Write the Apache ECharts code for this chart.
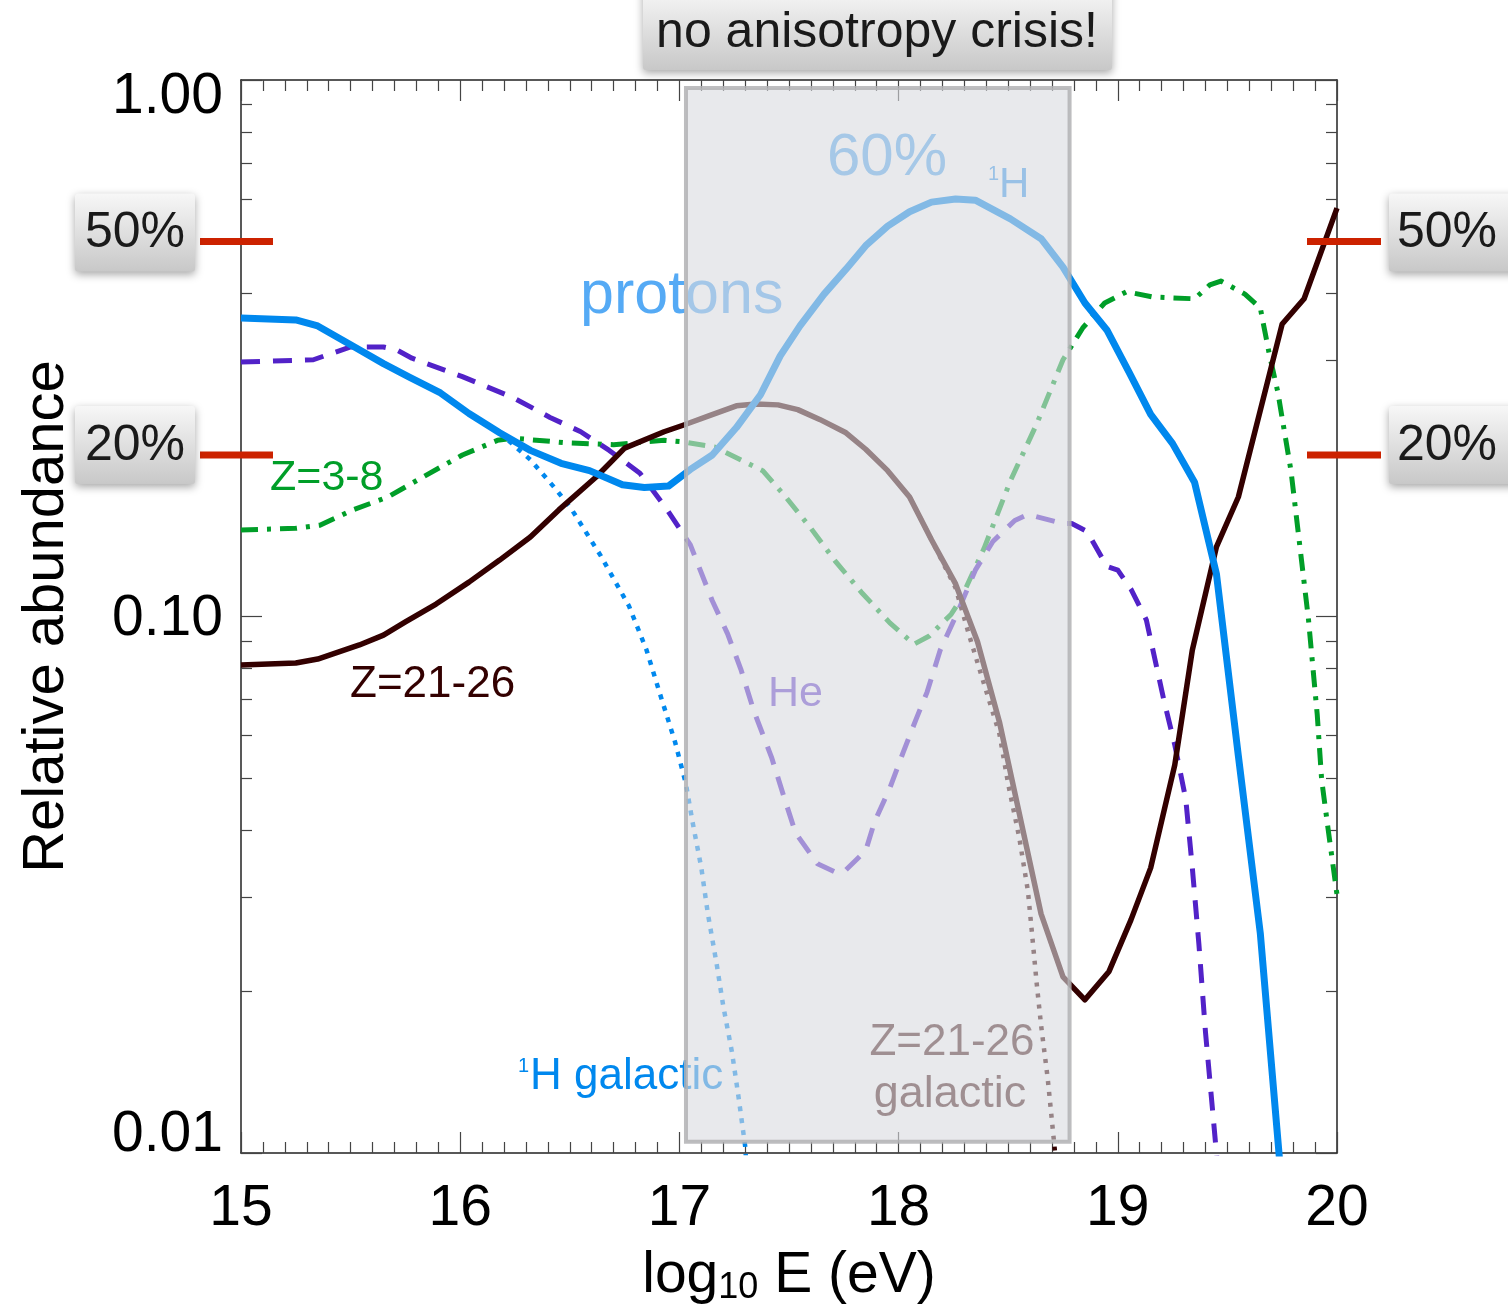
<!DOCTYPE html>
<html>
<head>
<meta charset="utf-8">
<script src="https://cdn.jsdelivr.net/npm/echarts@6/dist/echarts.min.js"></script>
<style>
  html, body { margin: 0; padding: 0; background: #ffffff; }
  #chart { width: 1508px; height: 1308px; }
</style>
</head>
<body>
<div id="chart"></div>
<script>
// Relative abundance of nuclear groups vs. log10 of energy (eV)
const xTicks = [15, 16, 17, 18, 19, 20];
const yTickValues = [0.01, 0.1, 1];
const yTickLabels = ['0.01', '0.10', '1.00'];
const yMinorTicks = [0.02, 0.03, 0.04, 0.05, 0.06, 0.07, 0.08, 0.09,
                     0.2, 0.3, 0.4, 0.5, 0.6, 0.7, 0.8, 0.9];

// Reference levels shown with red markers
const levelValues = [0.5, 0.2];
const levelLabels = ['50%', '20%'];

// Shaded energy band ("no anisotropy crisis!")
const bandEnergy = [17.03, 18.78];
const bandAbundance = [0.0105, 0.966];

// Protons (1H), total
const protons = [
  [15.00, 0.360], [15.25, 0.357], [15.35, 0.348], [15.50, 0.321], [15.65, 0.296],
  [15.77, 0.279], [15.91, 0.261], [16.04, 0.239], [16.18, 0.220], [16.32, 0.204],
  [16.46, 0.193], [16.59, 0.187], [16.74, 0.176], [16.84, 0.174], [16.95, 0.175],
  [17.05, 0.188], [17.15, 0.200], [17.26, 0.225], [17.37, 0.259], [17.46, 0.306],
  [17.55, 0.348], [17.66, 0.399], [17.76, 0.444], [17.85, 0.491], [17.95, 0.534],
  [18.05, 0.568], [18.15, 0.592], [18.26, 0.600], [18.35, 0.597], [18.51, 0.551],
  [18.65, 0.506], [18.75, 0.448], [18.85, 0.384], [18.95, 0.342], [19.05, 0.286],
  [19.15, 0.238], [19.25, 0.210], [19.35, 0.178], [19.45, 0.120], [19.55, 0.055],
  [19.65, 0.0257], [19.75, 0.0085]
];

// Galactic protons
const protonsGalactic = [
  [16.04, 0.239], [16.18, 0.220], [16.32, 0.196], [16.44, 0.172], [16.51, 0.158],
  [16.64, 0.130], [16.77, 0.1046], [16.85, 0.0866], [16.92, 0.0699], [16.98, 0.0584],
  [17.03, 0.0487], [17.06, 0.0414], [17.10, 0.0340], [17.13, 0.0279], [17.17, 0.0225],
  [17.20, 0.0188], [17.24, 0.0154], [17.27, 0.0127], [17.30, 0.0103], [17.31, 0.0089]
];

// Helium
const helium = [
  [15.00, 0.298], [15.33, 0.301], [15.39, 0.307], [15.50, 0.318], [15.65, 0.318],
  [15.71, 0.314], [15.78, 0.303], [16.01, 0.280], [16.24, 0.256], [16.41, 0.235],
  [16.55, 0.221], [16.68, 0.204], [16.82, 0.185], [16.94, 0.159], [17.05, 0.136],
  [17.15, 0.107], [17.22, 0.0928], [17.28, 0.0798], [17.34, 0.0666], [17.42, 0.0547],
  [17.48, 0.0457], [17.53, 0.0395], [17.63, 0.0346], [17.71, 0.0334], [17.75, 0.0334],
  [17.85, 0.0366], [17.89, 0.0414], [17.96, 0.0479], [18.02, 0.0557], [18.08, 0.0644],
  [18.13, 0.0723], [18.19, 0.0866], [18.27, 0.102], [18.35, 0.122], [18.43, 0.138],
  [18.53, 0.151], [18.59, 0.155], [18.75, 0.149], [18.79, 0.149], [18.86, 0.144],
  [18.95, 0.124], [19.00, 0.122], [19.06, 0.1125], [19.13, 0.0986], [19.21, 0.0699],
  [19.26, 0.0576], [19.31, 0.0457], [19.34, 0.0340], [19.37, 0.0245], [19.40, 0.0168],
  [19.45, 0.0100], [19.47, 0.0082]
];

// Z = 3-8
const cno = [
  [15.00, 0.145], [15.25, 0.146], [15.36, 0.148], [15.51, 0.158], [15.67, 0.167],
  [15.83, 0.182], [16.01, 0.200], [16.17, 0.213], [16.24, 0.215], [16.47, 0.211],
  [16.70, 0.209], [16.93, 0.213], [17.02, 0.2115], [17.16, 0.207], [17.38, 0.187],
  [17.48, 0.168], [17.60, 0.146], [17.71, 0.127], [17.83, 0.111], [17.96, 0.0973],
  [18.07, 0.0888], [18.14, 0.092], [18.24, 0.101], [18.28, 0.107], [18.39, 0.134],
  [18.51, 0.179], [18.63, 0.2285], [18.75, 0.301], [18.84, 0.345], [18.94, 0.384],
  [19.04, 0.403], [19.16, 0.394], [19.35, 0.391], [19.42, 0.415], [19.47, 0.422],
  [19.58, 0.399], [19.65, 0.376], [19.69, 0.310], [19.73, 0.262], [19.79, 0.187],
  [19.87, 0.0986], [19.91, 0.0655], [19.93, 0.0496], [19.96, 0.040], [20.00, 0.0303]
];

// Z = 21-26
const iron = [
  [15.00, 0.0812], [15.25, 0.0819], [15.35, 0.0833], [15.54, 0.0885], [15.65, 0.0923],
  [15.75, 0.0977], [15.89, 0.1055], [16.04, 0.1159], [16.18, 0.1274], [16.32, 0.1407],
  [16.45, 0.158], [16.62, 0.182], [16.75, 0.206], [16.93, 0.221], [17.02, 0.2275],
  [17.14, 0.237], [17.26, 0.247], [17.35, 0.249], [17.45, 0.248], [17.54, 0.243],
  [17.64, 0.233], [17.76, 0.220], [17.85, 0.205], [17.95, 0.187], [18.05, 0.167],
  [18.15, 0.139], [18.26, 0.115], [18.36, 0.0897], [18.46, 0.0636], [18.65, 0.0279],
  [18.75, 0.0213], [18.85, 0.0193], [18.96, 0.0218], [19.06, 0.0272], [19.15, 0.0340],
  [19.26, 0.0529], [19.34, 0.0866], [19.45, 0.1348], [19.55, 0.167], [19.75, 0.351],
  [19.85, 0.391], [20.00, 0.577]
];

// Galactic Z = 21-26
const ironGalactic = [
  [18.05, 0.167], [18.15, 0.139], [18.26, 0.113], [18.32, 0.0928], [18.39, 0.0748],
  [18.46, 0.0604], [18.50, 0.0487], [18.55, 0.0388], [18.59, 0.0308], [18.61, 0.0253],
  [18.63, 0.0207], [18.65, 0.0173], [18.68, 0.0138], [18.71, 0.0104], [18.73, 0.0085]
];

const FONT = '"Liberation Sans", Arial, Helvetica, sans-serif';
const BLUE = '#0088ee';
const PURPLE = '#5222c8';
const GREEN = '#009e28';
const DARK = '#330000';

const chart = echarts.init(document.getElementById('chart'), null, { renderer: 'canvas' });

const frameLine = { show: true, onZero: false, lineStyle: { color: '#222', width: 1.5 } };
const tickStyle = { color: '#444', width: 1.2 };

function xAxisDef(position, withLabels) {
  return {
    type: 'value', position: position, min: xTicks[0], max: xTicks[xTicks.length - 1], interval: 1,
    axisLine: frameLine,
    axisTick: { show: true, inside: true, length: 21, lineStyle: tickStyle },
    minorTick: { show: true, splitNumber: 10, length: 11, lineStyle: tickStyle },
    splitLine: { show: false }, minorSplitLine: { show: false },
    axisLabel: withLabels ? {
      show: true, margin: 28, color: '#000', fontSize: 57, fontFamily: FONT
    } : { show: false }
  };
}

function yMajorDef(position, withLabels) {
  return {
    type: 'log', logBase: 10, position: position, min: yTickValues[0], max: yTickValues[yTickValues.length - 1],
    axisLine: frameLine,
    axisTick: { show: true, inside: true, length: 21, lineStyle: tickStyle },
    splitLine: { show: false },
    axisLabel: withLabels ? {
      show: true, margin: 18, color: '#000', fontSize: 57, fontFamily: FONT,
      formatter: function (v) {
        const i = Math.round(Math.log10(v)) + 2;
        const key = i === 2 ? 't' : (i === 0 ? 'b' : 'm');
        return '{' + key + '|' + yTickLabels[i] + '}';
      },
      rich: {
        t: { fontSize: 57, fontFamily: FONT, color: '#000', padding: [35, 0, 0, 0] },
        m: { fontSize: 57, fontFamily: FONT, color: '#000', padding: [6, 0, 0, 0] },
        b: { fontSize: 57, fontFamily: FONT, color: '#000', padding: [0, 0, 35, 0] }
      }
    } : { show: false }
  };
}

// Minor log ticks live on a helper axis in log10 space
function yMinorDef(position) {
  return {
    type: 'value', position: position, min: -2, max: 0,
    axisLine: { show: false, onZero: false },
    axisTick: { show: true, inside: true, length: 11, lineStyle: tickStyle,
                customValues: yMinorTicks.map(v => Math.log10(v)) },
    splitLine: { show: false },
    axisLabel: { show: false }
  };
}

const xMain = xAxisDef('bottom', true);
xMain.name = '{a|log}{b|10}{a| E (eV)}';
xMain.nameLocation = 'middle';
xMain.nameGap = 93;
xMain.nameTextStyle = {
  color: '#000',
  rich: {
    a: { fontSize: 57, fontFamily: FONT, color: '#000', lineHeight: 60 },
    b: { fontSize: 36, fontFamily: FONT, color: '#000', lineHeight: 22, verticalAlign: 'bottom' }
  }
};

const yMain = yMajorDef('left', true);
yMain.name = 'Relative abundance';
yMain.nameLocation = 'middle';
yMain.nameGap = 165;
yMain.nameTextStyle = { color: '#000', fontSize: 58, fontFamily: FONT };

function lineSeries(name, data, color, width, dash, z) {
  return {
    type: 'line', name: name, data: data, xAxisIndex: 0, yAxisIndex: 0,
    showSymbol: false, symbol: 'none', smooth: false, clip: true, z: z || 2,
    lineStyle: { color: color, width: width, type: dash || 'solid', cap: 'butt', join: 'round' },
    emphasis: { disabled: true }, silent: true, animation: false
  };
}

const option = {
  backgroundColor: '#ffffff',
  animation: false,
  grid: { left: 241, right: 171, top: 80, bottom: 155, containLabel: false, outerBoundsMode: 'none' },
  xAxis: [xMain, xAxisDef('top', false)],
  yAxis: [yMain, yMinorDef('left'), yMajorDef('right', false), yMinorDef('right')],
  series: [
    lineSeries('Z=3-8', cno, GREEN, 5, [17, 9, 4, 9]),
    lineSeries('He', helium, PURPLE, 5, [19, 13]),
    lineSeries('1H galactic', protonsGalactic, BLUE, 4.5, [5, 7]),
    lineSeries('Z=21-26 galactic', ironGalactic, DARK, 4.5, [4, 7]),
    lineSeries('Z=21-26', iron, DARK, 5.5, 'solid', 3),
    lineSeries('protons', protons, BLUE, 7, 'solid', 4)
  ]
};

chart.setOption(option);

// Annotations placed with the chart's own coordinate conversion
const toPx = (e, v) => chart.convertToPixel({ xAxisIndex: 0, yAxisIndex: 0 }, [e, v]);

function txt(text, x, y, size, color, align, z) {
  return {
    type: 'text', x: x, y: y, z: z, silent: true,
    style: { text: text, font: size + 'px ' + FONT, fill: color,
             align: align || 'left', textAlign: align || 'left',
             verticalAlign: 'middle', textVerticalAlign: 'middle' }
  };
}

function grayBox(x, y, w, h, label, z) {
  return [
    {
      type: 'rect', z: z, silent: true,
      shape: { x: x, y: y, width: w, height: h, r: 3 },
      style: {
        fill: new echarts.graphic.LinearGradient(0, 0, 0, 1, [
          { offset: 0, color: '#f7f7f7' }, { offset: 1, color: '#c8c8c8' }
        ]),
        shadowBlur: 8, shadowOffsetY: 3, shadowColor: 'rgba(0,0,0,0.35)'
      }
    },
    txt(label, x + w / 2, y + h / 2 + 1, 50, '#1a1a1a', 'center', z + 1)
  ];
}

const graphics = [];

// Curve labels (drawn beneath the shaded band)
const LZ = 5;
graphics.push(txt('60%', 827, 158, 60, '#5aacf2', 'left', LZ));
graphics.push(txt('1', 988, 174, 20, '#3a9cf0', 'left', LZ));
graphics.push(txt('H', 999, 185, 42, '#3a9cf0', 'left', LZ));
graphics.push(txt('protons', 580, 296, 61, '#55aaf5', 'left', LZ));
graphics.push(txt('Z=3-8', 270, 478, 43, GREEN, 'left', LZ));
graphics.push(txt('Z=21-26', 350, 685, 44, DARK, 'left', LZ));
graphics.push(txt('He', 768, 694, 43, '#6a44d0', 'left', LZ));
graphics.push(txt('1', 518, 1066, 20, BLUE, 'left', LZ));
graphics.push(txt('H galactic', 530, 1077, 44, BLUE, 'left', LZ));
graphics.push(txt('Z=21-26', 952, 1043, 44, '#4a1f1f', 'center', LZ));
graphics.push(txt('galactic', 950, 1095, 45, '#4a1f1f', 'center', LZ));

// Shaded band over the curves
const b0 = toPx(bandEnergy[0], bandAbundance[1]);
const b1 = toPx(bandEnergy[1], bandAbundance[0]);
graphics.push({
  type: 'rect', z: 10, silent: true,
  shape: { x: b0[0], y: b0[1], width: b1[0] - b0[0], height: b1[1] - b0[1] },
  style: { fill: 'rgba(216,218,223,0.6)', stroke: 'rgba(178,178,180,0.85)', lineWidth: 4 }
});

// Red level markers with their boxed labels
const leftEdge = toPx(xTicks[0], 1)[0];
const rightEdge = toPx(xTicks[xTicks.length - 1], 1)[0];
levelValues.forEach(function (v, i) {
  const y = toPx(xTicks[0], v)[1];
  [[leftEdge - 41, leftEdge + 32], [rightEdge - 30, rightEdge + 44]].forEach(function (seg) {
    graphics.push({
      type: 'line', z: 20, silent: true,
      shape: { x1: seg[0], y1: y, x2: seg[1], y2: y },
      style: { stroke: '#cc2200', lineWidth: 7 }
    });
  });
  const bh = 78;
  const by = y - 48 + (i === 0 ? 0 : -1);
  grayBox(75, by, 120, bh, levelLabels[i], 20).forEach(g => graphics.push(g));
  grayBox(1389, by, 140, bh, levelLabels[i], 20).forEach(g => {
    if (g.type === 'text') { g.x = 1447; }
    graphics.push(g);
  });
});

// Title tag
grayBox(643, -12, 469, 82, '', 20).forEach(g => { if (g.type === 'rect') graphics.push(g); });
graphics.push(txt('no anisotropy crisis!', 877, 33, 50, '#1a1a1a', 'center', 21));

chart.setOption({ graphic: graphics });
</script>
</body>
</html>
